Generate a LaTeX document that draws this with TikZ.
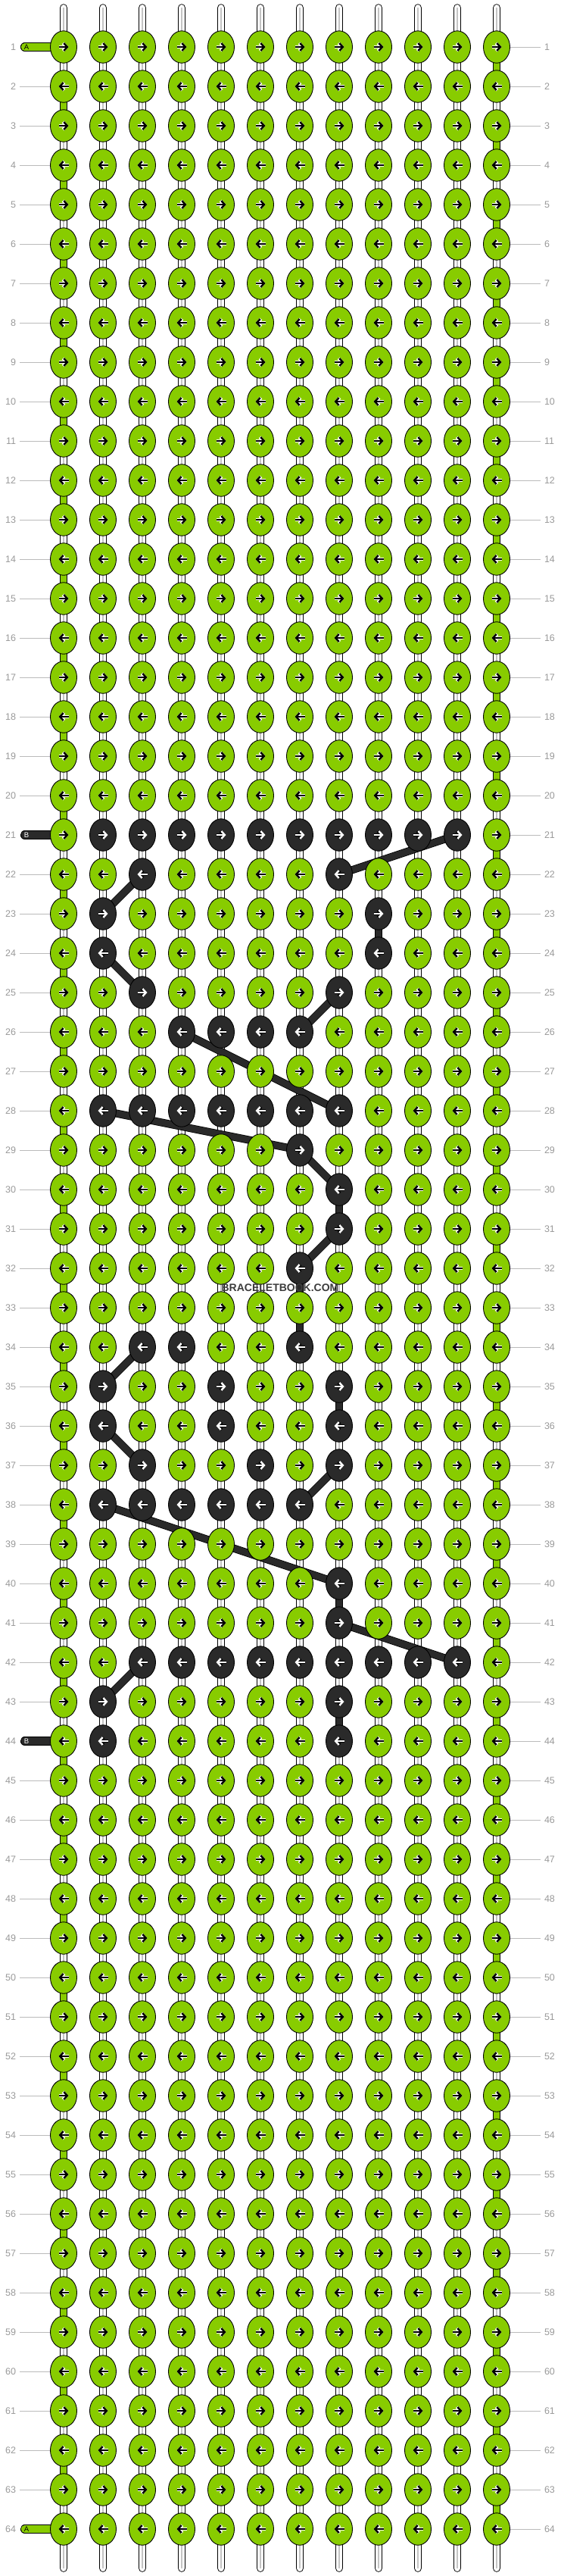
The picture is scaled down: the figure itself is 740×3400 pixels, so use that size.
\documentclass[tikz,border=0pt]{standalone}
\usepackage{fontspec}
\setmainfont{Liberation Sans}
\usetikzlibrary{shapes.geometric,arrows.meta}
\definecolor{threadA}{HTML}{88CC00}
\definecolor{threadB}{HTML}{2A2A2A}
\definecolor{rulegray}{HTML}{BBBBBB}
\definecolor{numgray}{HTML}{999999}
\definecolor{coregray}{HTML}{C4C4C4}
\definecolor{markgray}{HTML}{3C3C3C}

\begin{document}
\begin{tikzpicture}[x=1pt,y=-1pt,
	knot/.style={ellipse,draw=black,line width=0.9,minimum width=35,minimum height=42.5,inner sep=0,fill=threadA},
	darkknot/.style={knot,fill=threadB},
	hbar/.style={draw=black,line width=0.9,double=#1,double distance=9.6},
	vbar/.style={draw=black,line width=0.9,double=#1,double distance=8.8},
	core/.style={draw=coregray,line width=1.4},
	band/.style={draw=black,line width=0.8,double=threadB,double distance=8.6},
	pen/.style 2 args={draw=#1,line width=2.5,-{Straight Barb[length=4.5pt,width=10pt]},preaction={draw=#2,line width=4.1}},
	num/.style={text=numgray,font=\fontsize{12.5}{13}\selectfont,inner sep=0,outer sep=5},
	guide/.style={draw=rulegray,line width=1},
	tag/.style={font=\fontsize{9.5}{10}\selectfont,inner sep=0}]
	\useasboundingbox (0,0) rectangle (740,3400);
	% dark knots and dark vertical passes
	\foreach \r/\cols in {21/{2,...,11},22/{3,8},23/{2,9},24/{2,9},25/{3,8},26/{4,...,7},
		28/{2,...,8},29/{7},30/{8},31/{8},32/{7},34/{3,4,7},35/{2,5,8},36/{2,5,8},
		37/{3,6,8},38/{2,...,7},40/{8},41/{8},42/{3,...,11},43/{2,8},44/{2,8}}
		{\foreach \c in \cols {\expandafter\gdef\csname dk-\r-\c\endcsname{}}}
	\foreach \r/\c in {23/9,30/8,32/7,33/7,35/8,40/8,43/8}
		{\expandafter\gdef\csname vd-\r-\c\endcsname{}}
	% grid points
	\foreach \r in {1,...,64}
		\foreach \c in {1,...,12}
			\coordinate (p\r-\c) at ({32+52*\c},{10+52*\r});
	% strings above and below
	\foreach \c in {1,...,12}{
		\coordinate (t\c) at ({32+52*\c},10.5);
		\coordinate (b\c) at ({32+52*\c},3389.5);
		\draw[vbar=white,line cap=round] (t\c) -- (p1-\c);
		\draw[core,line cap=round] (t\c) -- (p1-\c);
		\draw[vbar=white,line cap=round] (b\c) -- (p64-\c);
		\draw[core,line cap=round] (b\c) -- (p64-\c);
	}
	% rows
	\foreach \r in {1,...,64}
		\foreach \c [evaluate=\c as \n using int(\c+1)] in {1,...,11}
			\draw[hbar=threadA] (p\r-\c) -- (p\r-\n);
	% between rows
	\foreach \r [evaluate=\r as \s using int(\r+1)] in {1,...,63}{
		\foreach \c in {1,...,12}{
			\def\vfill{white}
			\ifnum\c=12 \ifodd\r \def\vfill{threadA}\fi\fi
			\ifnum\c=1 \ifodd\r\else \def\vfill{threadA}\fi\fi
			\ifcsname vd-\r-\c\endcsname \def\vfill{threadB}\fi
			\draw[vbar=\vfill] (p\r-\c) -- (p\s-\c);
			\def\tmpw{white}
			\ifx\vfill\tmpw \draw[core] (p\r-\c) -- (p\s-\c);\fi
		}
	}
	% thread B
	\draw[band] (p21-11) -- (p22-8);
	\draw[band] (p22-3) -- (p23-2);
	\draw[band] (p24-2) -- (p25-3);
	\draw[band] (p25-8) -- (p26-7);
	\draw[band] (p26-4) -- (p28-8);
	\draw[band] (p28-2) -- (p29-7);
	\draw[band] (p29-7) -- (p30-8);
	\draw[band] (p31-8) -- (p32-7);
	\draw[band] (p34-3) -- (p35-2);
	\draw[band] (p36-2) -- (p37-3);
	\draw[band] (p37-8) -- (p38-7);
	\draw[band] (p38-2) -- (p40-8);
	\draw[band] (p41-8) -- (p42-11);
	\draw[band] (p42-3) -- (p43-2);
	% loose ends
	\coordinate (e1) at (32.6,62);
	\coordinate (e21) at (32.6,1102);
	\coordinate (e44) at (32.6,2298);
	\coordinate (e64) at (32.6,3338);
	\draw[hbar=threadA,line cap=round] (e1) -- (p1-1);
	\draw[hbar=threadB,line cap=round] (e21) -- (p21-1);
	\draw[hbar=threadB,line cap=round] (e44) -- (p44-1);
	\draw[hbar=threadA,line cap=round] (e64) -- (p64-1);
	\node[tag,text=black] (tagA1) at (35,62) {A};
	\node[tag,text=white] (tagB21) at (35,1102) {B};
	\node[tag,text=white] (tagB44) at (35,2298) {B};
	\node[tag,text=black] (tagA64) at (35,3338) {A};
	% knots
	\foreach \r in {1,...,64}{
		\foreach \c in {1,...,12}{
			\ifcsname dk-\r-\c\endcsname
				\node[darkknot] (k\r-\c) at (p\r-\c) {};
				\def\ink{white}\def\halo{black}
			\else
				\node[knot] (k\r-\c) at (p\r-\c) {};
				\def\ink{black}\def\halo{white}
			\fi
			\ifodd\r
				\draw[pen={\ink}{\halo}] ([xshift=-6.5pt]k\r-\c.center) -- ([xshift=6.5pt]k\r-\c.center);
			\else
				\draw[pen={\ink}{\halo}] ([xshift=6.5pt]k\r-\c.center) -- ([xshift=-6.5pt]k\r-\c.center);
			\fi
		}
	}
	% row numbers
	\foreach \r in {1,...,64}{
		\node[num,anchor=east] (nl\r) at (26,{10+52*\r}) {\r};
		\node[num,anchor=west] (nr\r) at (714,{10+52*\r}) {\r};
		\draw[guide] (k\r-12) -- (nr\r);
	}
	\foreach \r in {2,...,20,22,23,...,43,45,46,...,63}
		\draw[guide] (nl\r) -- (k\r-1);
	\node[font=\bfseries\fontsize{14}{14}\selectfont,text=markgray,inner sep=1] (mark) at (370,1700) {BRACELETBOOK.COM};
\end{tikzpicture}
\end{document}
